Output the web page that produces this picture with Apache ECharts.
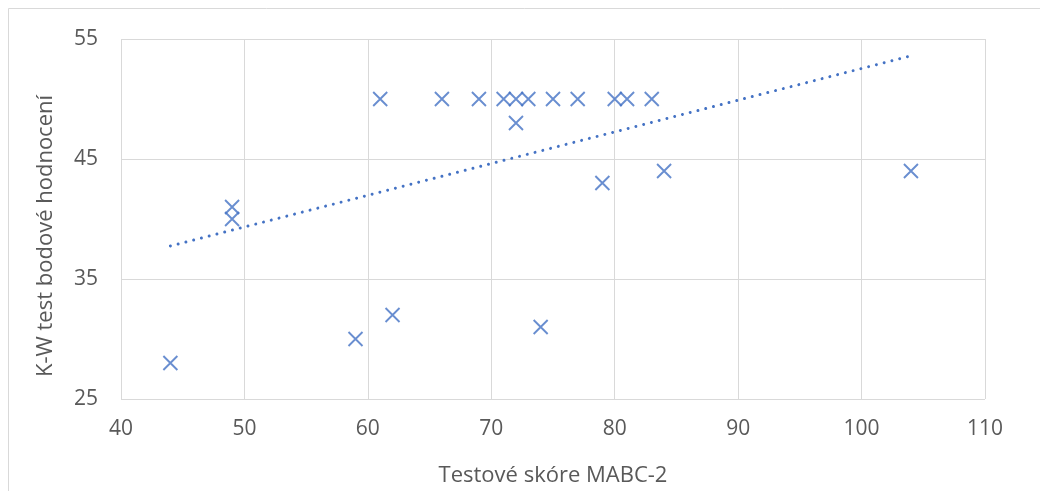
<!DOCTYPE html>
<html>
<head>
<meta charset="utf-8">
<script src="https://cdn.jsdelivr.net/npm/echarts@6/dist/echarts.min.js"></script>
<style>
  html, body { margin: 0; padding: 0; background: #fff; }
  #chart { width: 1040px; height: 491px; }
</style>
</head>
<body>
<div id="chart"></div>
<script>
// MABC-2 score vs. K-W rating points
const mabcScores = [44, 49, 49, 59, 62, 61, 66, 69, 71, 72, 73, 75, 77, 80, 81, 83, 72, 74, 79, 84, 104];
const kwScores   = [28, 41, 40, 30, 32, 50, 50, 50, 50, 50, 50, 50, 50, 50, 50, 50, 48, 31, 43, 44, 44];

// Linear trend line endpoints
const trendX = [44, 104];
const trendY = [37.75, 53.6];

const xTicks = [40, 50, 60, 70, 80, 90, 100, 110];
const yTicks = [25, 35, 45, 55];

const blue = '#4472C4';
const fontFamily = '"Open Sans", sans-serif';

const points = mabcScores.map((x, i) => [x, kwScores[i]]);
const trend = trendX.map((x, i) => [x, trendY[i]]);

const chart = echarts.init(document.getElementById('chart'), null, { renderer: 'canvas' });
chart.setOption({
  animation: false,
  backgroundColor: '#fff',
  graphic: [{
    type: 'rect',
    shape: { x: 8.5, y: 8.5, width: 1100, height: 600 },
    style: { fill: 'none', stroke: '#d9d9d9', lineWidth: 1 },
    silent: true
  }],
  grid: { left: 121, right: 55, top: 39, bottom: 92, outerBoundsMode: 'none' },
  xAxis: {
    type: 'value',
    min: xTicks[0], max: xTicks[xTicks.length - 1], interval: 10,
    name: 'Testové skóre MABC-2',
    nameLocation: 'middle', nameGap: 66,
    nameTextStyle: { color: '#595959', fontSize: 22, fontFamily },
    axisLine: { show: false },
    axisTick: { show: false },
    axisLabel: { color: '#595959', fontSize: 21, fontFamily, margin: 20 },
    splitLine: { show: true, lineStyle: { color: '#d9d9d9', width: 1 } }
  },
  yAxis: {
    type: 'value',
    min: yTicks[0], max: yTicks[yTicks.length - 1], interval: 10,
    name: 'K-W test bodové hodnocení',
    nameLocation: 'middle', nameGap: 64, nameRotate: 90,
    nameTextStyle: { color: '#595959', fontSize: 22, fontFamily, padding: [0, 34, 0, 0] },
    axisLine: { show: false },
    axisTick: { show: false },
    axisLabel: { color: '#595959', fontSize: 21, fontFamily, margin: 23 },
    splitLine: { show: true, lineStyle: { color: '#d9d9d9', width: 1 } }
  },
  series: [
    {
      type: 'line',
      data: trend,
      symbol: 'none',
      z: 1,
      lineStyle: { color: blue, width: 3, type: [0.01, 8], cap: 'round' }
    },
    {
      type: 'scatter',
      data: points,
      symbol: 'path://M0,0L10,10M10,0L0,10',
      symbolSize: [14, 14],
      z: 2,
      itemStyle: { color: 'transparent', borderColor: blue, borderWidth: 1.9 }
    }
  ]
});
</script>
</body>
</html>
